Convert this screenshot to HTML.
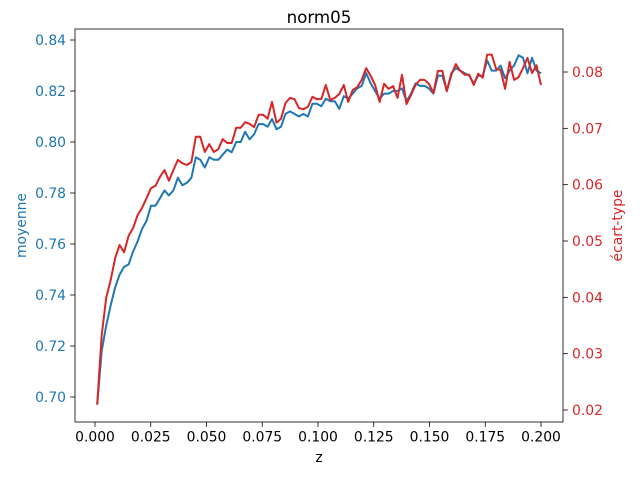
<!DOCTYPE html>
<html><head><meta charset="utf-8"><style>
body{margin:0;background:#fff}
svg{display:block;font-family:"DejaVu Sans","Liberation Sans",sans-serif}
</style></head><body>
<svg id="c" width="640" height="480"></svg>
<script>
const xTicks=[0.000,0.025,0.050,0.075,0.100,0.125,0.150,0.175,0.200];
const xTickLabels=["0.000","0.025","0.050","0.075","0.100","0.125","0.150","0.175","0.200"];
const leftTicks=[0.70,0.72,0.74,0.76,0.78,0.80,0.82,0.84];
const leftTickLabels=["0.70","0.72","0.74","0.76","0.78","0.80","0.82","0.84"];
const rightTicks=[0.02,0.03,0.04,0.05,0.06,0.07,0.08];
const rightTickLabels=["0.02","0.03","0.04","0.05","0.06","0.07","0.08"];
const zStart=0.001, zStep=0.00201;
const moyenne=[0.697,0.718,0.728,0.736,0.743,0.748,0.751,0.752,0.757,0.761,0.766,0.769,0.775,0.775,0.778,0.781,0.779,0.781,0.786,0.783,0.784,0.786,0.794,0.793,0.790,0.794,0.793,0.793,0.795,0.797,0.796,0.800,0.800,0.804,0.801,0.803,0.807,0.807,0.806,0.809,0.805,0.806,0.811,0.812,0.811,0.810,0.811,0.810,0.815,0.815,0.814,0.817,0.816,0.816,0.813,0.818,0.817,0.819,0.821,0.822,0.827,0.823,0.820,0.817,0.819,0.819,0.820,0.820,0.821,0.816,0.819,0.823,0.822,0.822,0.821,0.819,0.826,0.826,0.820,0.827,0.829,0.828,0.827,0.826,0.823,0.826,0.826,0.832,0.828,0.828,0.830,0.825,0.828,0.830,0.834,0.833,0.827,0.833,0.828,0.827];
const ecartType=[0.021,0.0333,0.0399,0.0431,0.047,0.0493,0.048,0.0509,0.0523,0.0546,0.0559,0.0576,0.0594,0.0598,0.0614,0.0626,0.0607,0.0626,0.0644,0.0638,0.0635,0.064,0.0685,0.0685,0.0658,0.0672,0.0658,0.0663,0.0681,0.0674,0.0674,0.0701,0.0701,0.0711,0.0708,0.0702,0.0724,0.0724,0.0717,0.0747,0.071,0.0717,0.0745,0.0754,0.0752,0.0736,0.0734,0.0738,0.0756,0.0752,0.0752,0.0777,0.075,0.0754,0.0761,0.0777,0.0747,0.0768,0.0773,0.0786,0.0807,0.0793,0.0777,0.0747,0.0779,0.077,0.0775,0.0754,0.0795,0.0743,0.0759,0.0777,0.0786,0.0786,0.0779,0.0763,0.0802,0.0802,0.0766,0.0795,0.0814,0.0802,0.0795,0.0795,0.0777,0.0797,0.079,0.0831,0.0831,0.0805,0.0804,0.077,0.0818,0.0786,0.0791,0.0807,0.0825,0.0798,0.0812,0.0777];

const L=75,R=563,T=29,B=422;
const X=v=>95+v/0.2*446;
const YL=v=>397-(v-0.70)/0.02*51;
const YR=v=>410-(v-0.02)/0.01*56.33;
const svg=document.getElementById('c');
const NS='http://www.w3.org/2000/svg';
function mk(tag,a,txt){const e=document.createElementNS(NS,tag);for(const k in a)e.setAttribute(k,a[k]);if(txt!=null)e.textContent=txt;svg.appendChild(e);return e;}

xTicks.forEach((t,i)=>{
  const l=mk('line',{x1:X(t),x2:X(t),y1:B,y2:B+4.9,stroke:'#000','stroke-width':0.8});
  
  
  const tx=mk('text',{x:X(t),y:B+19.5,'font-size':13.9,'text-anchor':'middle',fill:'#000'},xTickLabels[i]);
  
  
});
leftTicks.forEach((t,i)=>{
  const l=mk('line',{x1:L-4.9,x2:L,y1:YL(t),y2:YL(t),stroke:'#000','stroke-width':0.8});
  
  
  const tx=mk('text',{x:L-9,y:YL(t)+5,'font-size':13.9,'text-anchor':'end',fill:'#1f77b4'},leftTickLabels[i]);
  
  
});
rightTicks.forEach((t,i)=>{
  const l=mk('line',{x1:R,x2:R+4.9,y1:YR(t),y2:YR(t),stroke:'#000','stroke-width':0.8});
  
  
  const tx=mk('text',{x:R+9,y:YR(t)+5,'font-size':13.9,'text-anchor':'start',fill:'#d62728'},rightTickLabels[i]);
  
  
});
const zs=moyenne.map((_,i)=>zStart+i*zStep);
const p1=mk('polyline',{points:moyenne.map((v,i)=>X(zs[i]).toFixed(1)+','+YL(v).toFixed(1)).join(' '),fill:'none',stroke:'#1f77b4','stroke-width':2,'stroke-linejoin':'round'});


const p2=mk('polyline',{points:ecartType.map((v,i)=>X(zStart+i*zStep).toFixed(1)+','+YR(v).toFixed(1)).join(' '),fill:'none',stroke:'#d62728','stroke-width':2,'stroke-linejoin':'round'});


const fr=mk('rect',{x:L,y:T,width:R-L,height:B-T,fill:'none',stroke:'#000','stroke-width':0.8});


const ti=mk('text',{x:(L+R)/2,y:T-6,'font-size':16.7,'text-anchor':'middle'},'norm05');


const xl=mk('text',{x:(L+R)/2,y:462,'font-size':13.9,'text-anchor':'middle'},'z');


const yl=mk('text',{x:0,y:0,'font-size':13.9,'text-anchor':'middle',fill:'#1f77b4',transform:'translate(26,'+((T+B)/2)+') rotate(-90)'},'moyenne');


const yr=mk('text',{x:0,y:0,'font-size':13.9,'text-anchor':'middle',fill:'#d62728',transform:'translate(622,'+((T+B)/2)+') rotate(-90)'},'écart-type');


</script>
</body></html>
